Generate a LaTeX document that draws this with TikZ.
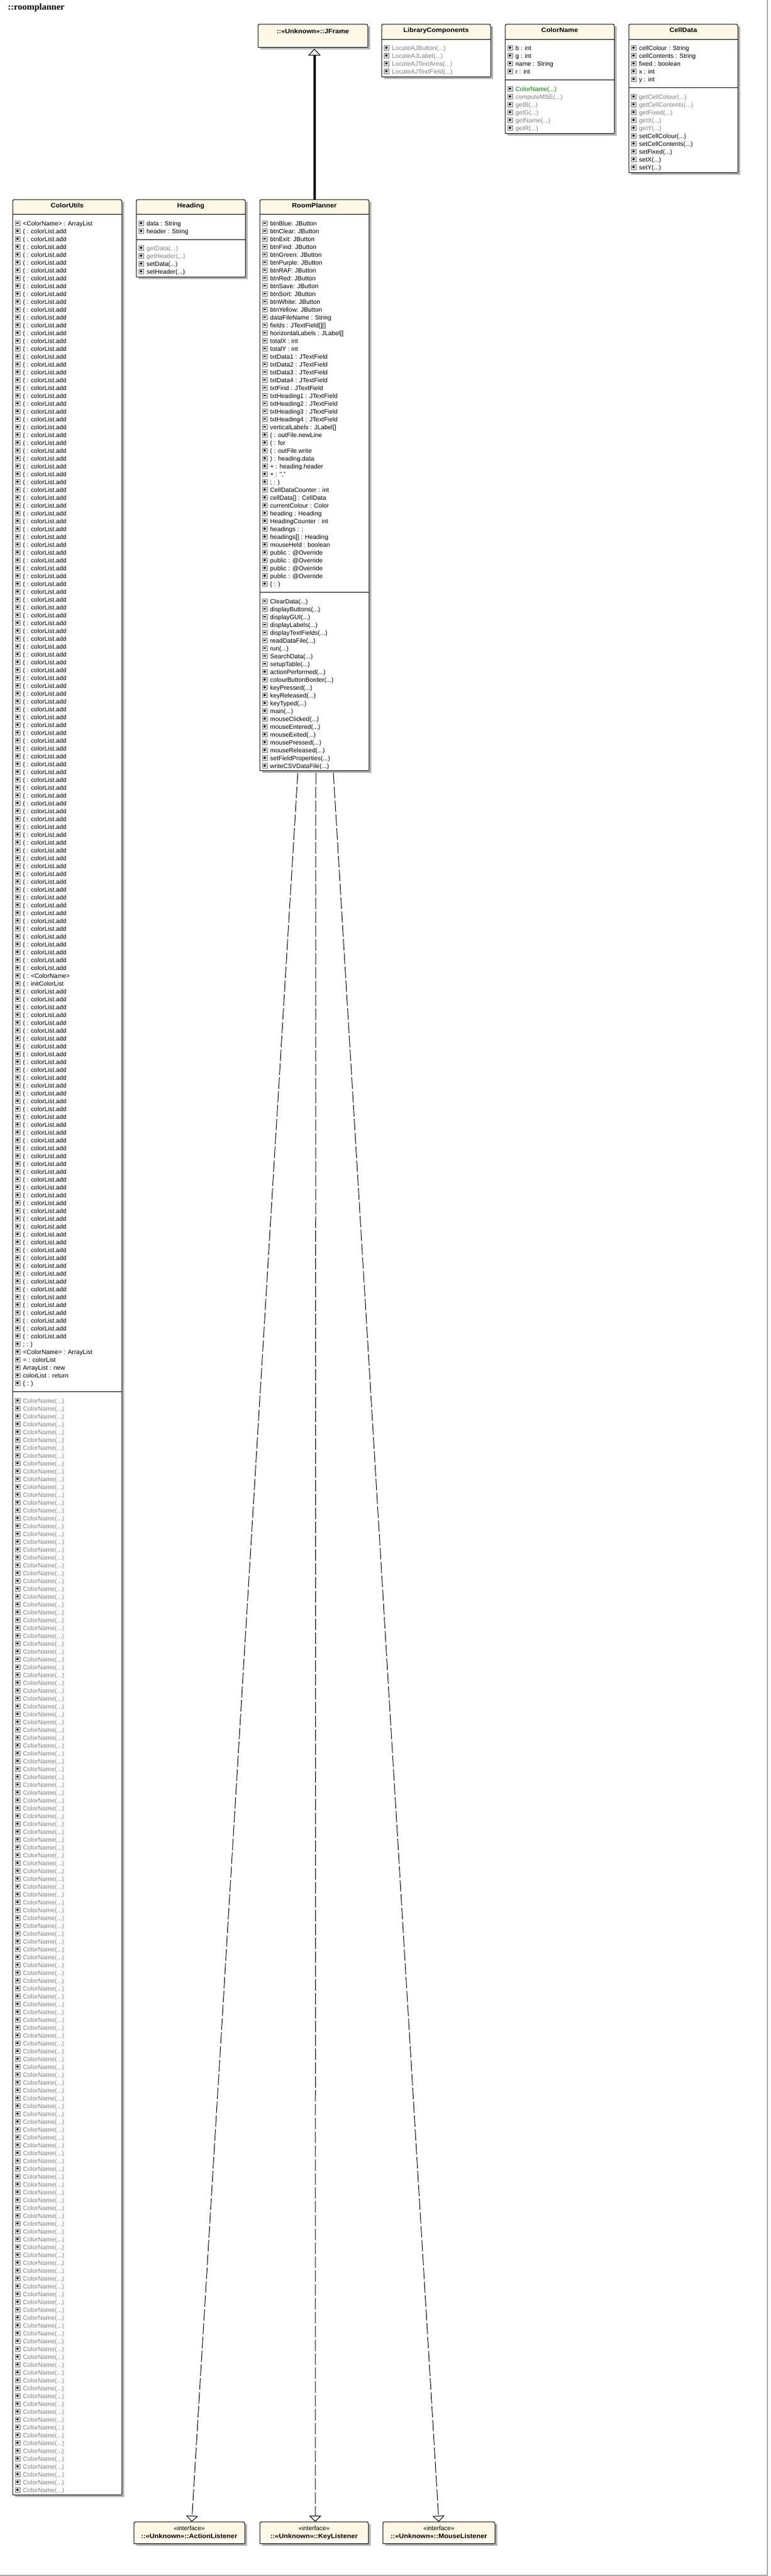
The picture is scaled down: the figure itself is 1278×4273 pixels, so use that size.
\documentclass[tikz,border=0pt]{standalone}
\usepackage{fontspec}
\setmainfont{Liberation Sans}[BoldFeatures={FakeStretch=1.1}]
\newfontfamily\titlefont{Liberation Serif}
\usetikzlibrary{arrows.meta, positioning}

\definecolor{umlcream}{HTML}{FFF8E6}
\definecolor{umllight}{HTML}{FFFCF4}
\definecolor{umlgray}{HTML}{808080}
\definecolor{umlgreen}{HTML}{008000}
\definecolor{umlshadow}{HTML}{B4B4B4}
\definecolor{pagegray}{HTML}{A8A8A8}

\newcommand{\umlfont}{\fontsize{10.4}{12}\selectfont}

% box: name, left, top, right, bottom, end of cream band
\newcommand{\umlframe}[6]{%
  \fill[umlshadow] (#2+4,#3+4) rectangle (#4+4,#5+4);
  \fill[white] (#2,#3) rectangle (#4,#5);
  \fill[umlcream, rounded corners=3pt] (#2,#3) rectangle (#4,#6+5);
  \fill[umllight] (#2,#6) rectangle (#4,#6+5);
  \node[boxarea, minimum width={#4-#2}, minimum height={#5-#3}] (#1) at (#2,#3) {};
  \draw[boxline, rounded corners=3pt] (#1.south west) -- (#1.north west) -- (#1.north east) -- (#1.south east);
  \draw[boxline] (#1.south west) -- (#1.south east);
}
\newcommand{\umlbox}[6]{\umlframe{#1}{#2}{#3}{#4}{#5}{#6}\draw[boxline] (#2,#6) -- (#4,#6);}
\newcommand{\umlsep}[3]{\draw[boxline] (#1,#3) -- (#2,#3);}

% row: [colour], box left, row centre, p or m, text
\newcommand{\umlrow}[5][black]{%
  \draw[iconbox] (#2+4,#3-4) rectangle (#2+12,#3+4);
  \draw[iconsign] (#2+5.6,#3) -- (#2+10.4,#3);
  \ifx p#4\draw[iconsign] (#2+8,#3-2.4) -- (#2+8,#3+2.4);\fi
  \node[rowtext, text=#1] (row-#2-#3) at (#2+17,#3+4) {#5};
}

\begin{document}
\begin{tikzpicture}[
  x=1pt, y=-1pt,
  boxarea/.style={anchor=north west, inner sep=0pt, outer sep=0pt},
  boxline/.style={draw=black, line width=1pt},
  iconbox/.style={draw=black!50, fill=black!12, line width=0.8pt},
  iconsign/.style={draw=black!85, line width=1.3pt},
  rowtext/.style={anchor=base west, inner sep=0pt, font=\umlfont},
  headtext/.style={anchor=base, inner sep=0pt, font=\umlfont\bfseries},
  inherit/.style={line width=4pt, -{Triangle[open, length=11pt, width=21pt, line width=1pt]}},
  realize/.style={line width=1pt, dash pattern=on 19pt off 4pt, -{Triangle[open, length=10pt, width=20pt]}}
]
\useasboundingbox (0,0) rectangle (1278,4273);
\draw[pagegray, line width=1.5pt] (1273,0) -- (1273,4272) -- (0,4272);

\node[anchor=base west, inner sep=0pt, font=\titlefont\bfseries\fontsize{15}{18}\selectfont] (title) at (13,16) {::roomplanner};

% Row 1: JFrame and the small classes
\umlframe{JFrame}{428}{40}{610}{78}{72}
\node[headtext] (JFrame-name) at (519,55) {::<<Unknown>>::JFrame};

\umlbox{LibraryComponents}{633}{40}{814}{127}{65}
\node[headtext] (LibraryComponents-name) at (723.5,53.5) {LibraryComponents};
\umlrow[umlgray]{633}{79}{p}{LocateAJButton(...)}
\umlrow[umlgray]{633}{92}{p}{LocateAJLabel(...)}
\umlrow[umlgray]{633}{105}{p}{LocateAJTextArea(...)}
\umlrow[umlgray]{633}{118}{p}{LocateAJTextField(...)}

\umlbox{ColorName}{838}{40}{1019}{221}{65}
\node[headtext] (ColorName-name) at (928.5,53.5) {ColorName};
\umlrow{838}{79}{p}{b : int}
\umlrow{838}{92}{p}{g : int}
\umlrow{838}{105}{p}{name : String}
\umlrow{838}{118}{p}{r : int}
\umlsep{838}{1019}{132}
\umlrow[umlgreen]{838}{147}{p}{ColorName(...)}
\umlrow[umlgray]{838}{160}{p}{computeMSE(...)}
\umlrow[umlgray]{838}{173}{p}{getB(...)}
\umlrow[umlgray]{838}{186}{p}{getG(...)}
\umlrow[umlgray]{838}{199}{p}{getName(...)}
\umlrow[umlgray]{838}{212}{p}{getR(...)}

\umlbox{CellData}{1043}{40}{1224}{286}{65}
\node[headtext] (CellData-name) at (1133.5,53.5) {CellData};
\umlrow{1043}{79}{p}{cellColour : String}
\umlrow{1043}{92}{p}{cellContents : String}
\umlrow{1043}{105}{p}{fixed : boolean}
\umlrow{1043}{118}{p}{x : int}
\umlrow{1043}{131}{p}{y : int}
\umlsep{1043}{1224}{145}
\foreach \t [count=\i from 0] in {CellColour, CellContents, Fixed, X, Y}
  {\pgfmathtruncatemacro{\y}{160+13*\i}\umlrow[umlgray]{1043}{\y}{p}{get\t(...)}}
\foreach \t [count=\i from 5] in {CellColour, CellContents, Fixed, X, Y}
  {\pgfmathtruncatemacro{\y}{160+13*\i}\umlrow{1043}{\y}{p}{set\t(...)}}

% Row 2: ColorUtils
\umlbox{ColorUtils}{21}{331}{202}{4138}{355}
\node[headtext] (ColorUtils-name) at (111.5,344.5) {ColorUtils};
\umlrow{21}{370}{m}{<ColorName> : ArrayList}
\foreach \i [evaluate=\i as \y using int(370+13*\i)] in {1,...,95}
  {\umlrow{21}{\y}{p}{( : colorList.add}}
\umlrow{21}{1618}{p}{( : <ColorName>}
\umlrow{21}{1631}{p}{( : initColorList}
\foreach \i [evaluate=\i as \y using int(370+13*\i)] in {98,...,142}
  {\umlrow{21}{\y}{p}{( : colorList.add}}
\umlrow{21}{2229}{p}{; : )}
\umlrow{21}{2242}{p}{<ColorName> : ArrayList}
\umlrow{21}{2255}{p}{= : colorList}
\umlrow{21}{2268}{p}{ArrayList : new}
\umlrow{21}{2281}{p}{colorList : return}
\umlrow{21}{2294}{p}{\{ : )}
\umlsep{21}{202}{2308}
\foreach \i [evaluate=\i as \y using int(2323+13*\i)] in {0,...,139}
  {\umlrow[umlgray]{21}{\y}{p}{ColorName(...)}}

% Row 2: Heading
\umlbox{Heading}{226}{331}{407}{459}{355}
\node[headtext] (Heading-name) at (316.5,344.5) {Heading};
\umlrow{226}{370}{p}{data : String}
\umlrow{226}{383}{p}{header : String}
\umlsep{226}{407}{397}
\umlrow[umlgray]{226}{411}{p}{getData(...)}
\umlrow[umlgray]{226}{424}{p}{getHeader(...)}
\umlrow{226}{437}{p}{setData(...)}
\umlrow{226}{450}{p}{setHeader(...)}

% Row 2: RoomPlanner
\umlbox{RoomPlanner}{431}{331}{612}{1278}{355}
\node[headtext] (RoomPlanner-name) at (521.5,344.5) {RoomPlanner};
\foreach \t [count=\i from 0] in {Blue, Clear, Exit, Find, Green, Purple, RAF, Red, Save, Sort, White, Yellow}
  {\pgfmathtruncatemacro{\y}{370+13*\i}\umlrow{431}{\y}{m}{btn\t : JButton}}
\foreach \t [count=\i from 12] in {{dataFileName : String}, {fields : JTextField[][]},
    {horizontalLabels : JLabel[]}, {totalX : int}, {totalY : int},
    {txtData1 : JTextField}, {txtData2 : JTextField}, {txtData3 : JTextField}, {txtData4 : JTextField},
    {txtFind : JTextField}, {txtHeading1 : JTextField}, {txtHeading2 : JTextField},
    {txtHeading3 : JTextField}, {txtHeading4 : JTextField}, {verticalLabels : JLabel[]}}
  {\pgfmathtruncatemacro{\y}{370+13*\i}\umlrow{431}{\y}{m}{\t}}
\foreach \t [count=\i from 27] in {{( : outFile.newLine}, {( : for}, {( : outFile.write},
    {) : heading.data}, {+ : heading.header}, {+ : ","}, {; : )}, {CellDataCounter : int},
    {cellData[] : CellData}, {currentColour : Color}, {heading : Heading}, {HeadingCounter : int},
    {headings : :}, {headings[] : Heading}, {mouseHeld : boolean}, {public : @Override},
    {public : @Override}, {public : @Override}, {public : @Override}, {\{ : )}}
  {\pgfmathtruncatemacro{\y}{370+13*\i}\umlrow{431}{\y}{p}{\t}}
\umlsep{431}{612}{982}
\foreach \t [count=\i from 0] in {ClearData, displayButtons, displayGUI, displayLabels,
    displayTextFields, readDataFile, run, SearchData, setupTable}
  {\pgfmathtruncatemacro{\y}{997+13*\i}\umlrow{431}{\y}{m}{\t(...)}}
\foreach \t [count=\i from 9] in {actionPerformed, colourButtonBorder, keyPressed, keyReleased,
    keyTyped, main, mouseClicked, mouseEntered, mouseExited, mousePressed, mouseReleased,
    setFieldProperties, writeCSVDataFile}
  {\pgfmathtruncatemacro{\y}{997+13*\i}\umlrow{431}{\y}{p}{\t(...)}}

% Row 3: interfaces
\umlframe{ActionListener}{222}{4183}{406}{4219}{4213}
\node[rowtext, anchor=base] (ActionListener-kind) at (314,4197) {<<interface>>};
\node[headtext] (ActionListener-name) at (314,4210) {::<<Unknown>>::ActionListener};
\umlframe{KeyListener}{431}{4183}{611}{4219}{4213}
\node[rowtext, anchor=base] (KeyListener-kind) at (521,4197) {<<interface>>};
\node[headtext] (KeyListener-name) at (521,4210) {::<<Unknown>>::KeyListener};
\umlframe{MouseListener}{635}{4183}{821}{4219}{4213}
\node[rowtext, anchor=base] (MouseListener-kind) at (728,4197) {<<interface>>};
\node[headtext] (MouseListener-name) at (728,4210) {::<<Unknown>>::MouseListener};

% Arrows between rows
\coordinate (JFrame-tip) at (RoomPlanner.north |- JFrame.south);
\draw[inherit] (RoomPlanner.north) -- ([yshift=-3pt]JFrame-tip);
\draw[realize] ([yshift=-4pt, xshift=-27.5pt]RoomPlanner.south) -- ([xshift=4pt]ActionListener.north);
\draw[realize] ([yshift=-4pt, xshift=2.5pt]RoomPlanner.south) -- ([xshift=2pt]KeyListener.north);
\draw[realize] ([yshift=-4pt, xshift=31.5pt]RoomPlanner.south) -- (MouseListener.north);

\end{tikzpicture}
\end{document}
